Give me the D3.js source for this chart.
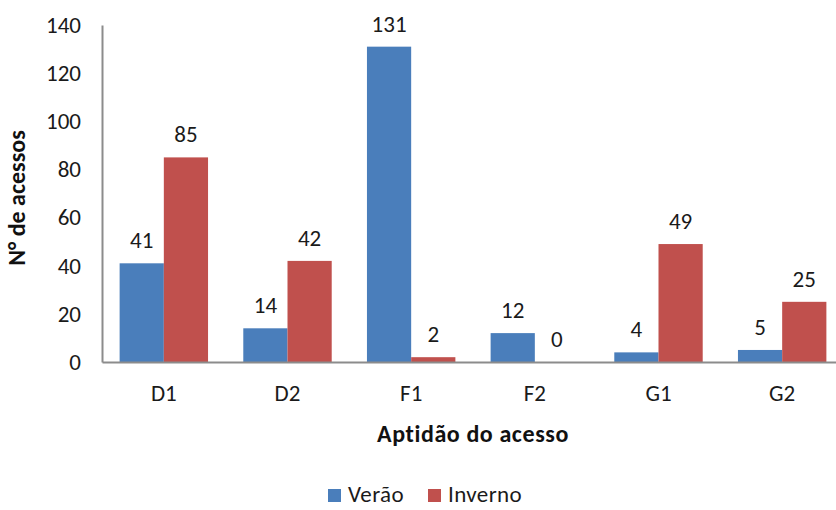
<!DOCTYPE html>
<html>
<head>
<meta charset="utf-8">
<script src="https://cdn.jsdelivr.net/npm/d3@7"></script>
<style>
  html, body { margin: 0; padding: 0; background: #fff; overflow: hidden; }
  svg { display: block; font-family: Carlito, Lato, "Open Sans", sans-serif; }
</style>
</head>
<body>
<svg id="chart" width="836" height="510"></svg>
<script>
// Access points by suitability class, summer vs winter
const categories = ["D1", "D2", "F1", "F2", "G1", "G2"];
const verao = [41, 14, 131, 12, 4, 5];
const inverno = [85, 42, 2, 0, 49, 25];
const seriesNames = ["Verão", "Inverno"];
const yTicks = [0, 20, 40, 60, 80, 100, 120, 140];

const colors = ["#4a7ebb", "#c0504d"];
const FONT = "Carlito, Lato, 'Open Sans', sans-serif";
const svg = d3.select("#chart");

const plot = { left: 102, top: 25, right: 844, bottom: 362 };

const x = d3.scaleBand().domain(categories).range([plot.left, plot.right])
  .paddingInner(0.285).paddingOuter(0.1425);
const xs = d3.scaleBand().domain(seriesNames).range([0, x.bandwidth()]);
const y = d3.scaleLinear().domain([0, 140]).range([plot.bottom, plot.top]);

const rows = categories.map((c, i) => ({ cat: c, vals: [verao[i], inverno[i]] }));

// bars
const groups = svg.append("g").selectAll("g").data(rows).join("g")
  .attr("transform", d => `translate(${x(d.cat)},0)`);

groups.selectAll("rect").data(d => d.vals.map((v, k) => ({ v, k })))
  .join("rect")
  .attr("x", d => xs(seriesNames[d.k]))
  .attr("width", xs.bandwidth())
  .attr("y", d => y(d.v))
  .attr("height", d => y(0) - y(d.v))
  .attr("fill", d => colors[d.k]);

// value labels
groups.selectAll("text").data(d => d.vals.map((v, k) => ({ v, k })))
  .join("text")
  .attr("x", d => xs(seriesNames[d.k]) + xs.bandwidth() / 2)
  .attr("y", d => y(d.v) - 15)
  .attr("text-anchor", "middle")
  .attr("font-size", 23)
  .attr("fill", "#1a1a1a")
  .text(d => d.v);

// y axis
const yAxis = svg.append("g").attr("transform", `translate(${plot.left},0)`)
  .call(d3.axisLeft(y).tickValues(yTicks).tickSize(0).tickPadding(21));
yAxis.select(".domain").attr("stroke", "#8c8c8c").attr("stroke-width", 2);
yAxis.selectAll("text").attr("font-size", 23).attr("fill", "#1a1a1a")
  .attr("font-family", FONT);

// x axis
const xAxis = svg.append("g").attr("transform", `translate(0,${plot.bottom})`)
  .call(d3.axisBottom(x).tickSize(0).tickPadding(23));
xAxis.select(".domain").attr("stroke", "#8c8c8c").attr("stroke-width", 2);
xAxis.selectAll("text").attr("font-size", 23).attr("fill", "#1a1a1a")
  .attr("font-family", FONT);

// axis titles
svg.append("text")
  .attr("transform", `translate(25,198) rotate(-90)`)
  .attr("text-anchor", "middle")
  .attr("font-size", 24).attr("font-weight", "bold").attr("fill", "#111")
  .text("N° de acessos");

svg.append("text")
  .attr("x", 473).attr("y", 442)
  .attr("text-anchor", "middle")
  .attr("font-size", 24).attr("font-weight", "bold").attr("fill", "#111")
  .attr("letter-spacing", 0.6)
  .text("Aptidão do acesso");

// legend
const legendItems = [{ name: seriesNames[0], x: 328 }, { name: seriesNames[1], x: 428 }];
const legend = svg.append("g").selectAll("g").data(legendItems).join("g")
  .attr("transform", d => `translate(${d.x},486)`);
legend.append("rect").attr("y", 3).attr("width", 13).attr("height", 13)
  .attr("fill", (d, i) => colors[i]);
legend.append("text").attr("x", 20).attr("y", 13 + 3)
  .attr("font-size", 23).attr("fill", "#1a1a1a")
  .attr("letter-spacing", 0.4)
  .text(d => d.name);
</script>
</body>
</html>
